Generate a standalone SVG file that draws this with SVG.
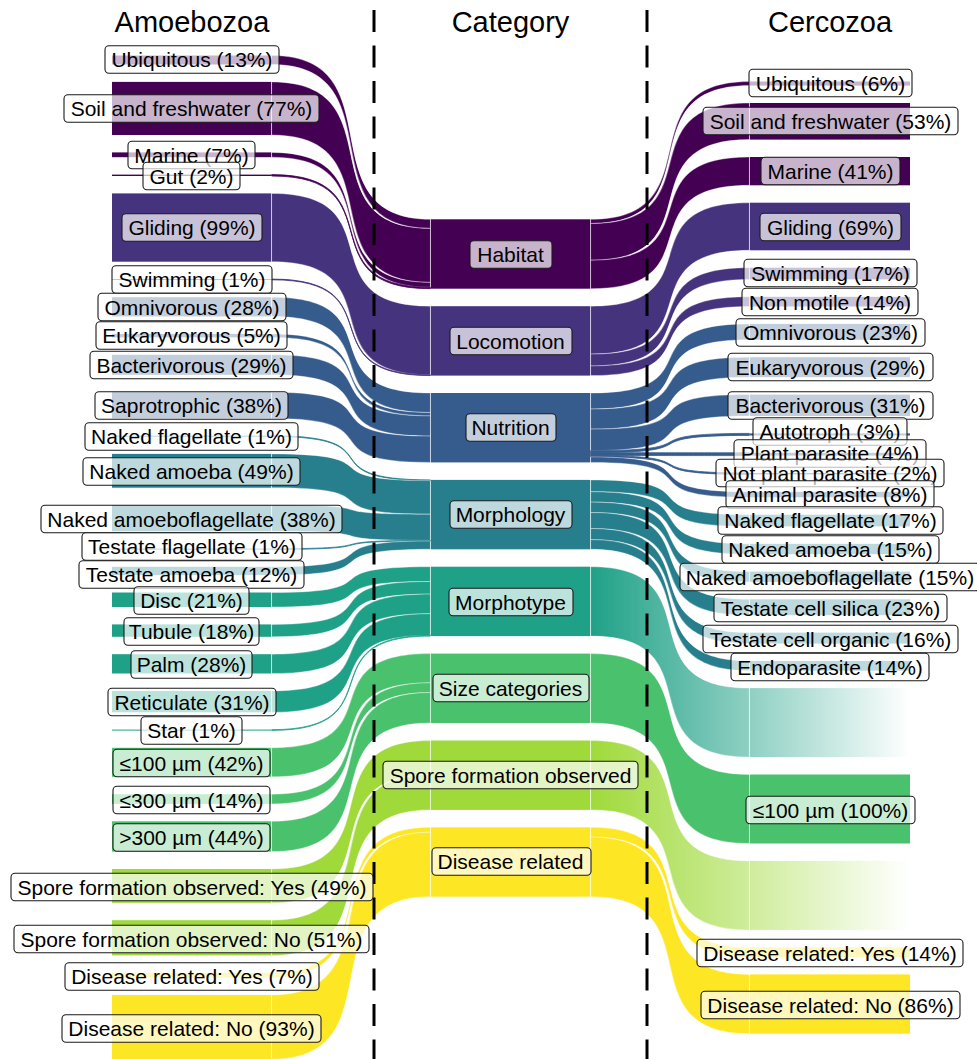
<svg xmlns="http://www.w3.org/2000/svg" width="977" height="1059" viewBox="0 0 977 1059">
<style>
.h{fill:#440154}.l{fill:#46337E}.n{fill:#365C8D}.m{fill:#277F8E}.p{fill:#1FA187}.s{fill:#4AC16D}.o{fill:#9FDA3A}.d{fill:#FDE725}
#links path{stroke:#fff;stroke-width:.5;stroke-opacity:.7}
#links path.t{stroke-opacity:1;stroke-width:.8}
.lab rect{fill:#fff;fill-opacity:.7;stroke:#1a1a1a;stroke-width:1.1}
.lab text{font-family:"Liberation Sans",Arial,sans-serif;font-size:21px;text-anchor:middle;fill:#000}
.ttl{font-family:"Liberation Sans",Arial,sans-serif;font-size:29px;text-anchor:middle;fill:#000}
.dash{stroke:#000;stroke-width:3;stroke-dasharray:22 13.5;fill:none}
</style>
<defs>
<linearGradient id="gp" gradientUnits="userSpaceOnUse" x1="590" y1="0" x2="910" y2="0"><stop offset="0" stop-color="#1FA187" stop-opacity="1"/><stop offset="1" stop-color="#1FA187" stop-opacity="0"/></linearGradient>
<linearGradient id="go" gradientUnits="userSpaceOnUse" x1="590" y1="0" x2="910" y2="0"><stop offset="0" stop-color="#9FDA3A" stop-opacity="1"/><stop offset="1" stop-color="#9FDA3A" stop-opacity="0"/></linearGradient>
</defs>
<rect width="977" height="1059" fill="#fff"/>
<g id="titles">
<text class="ttl" x="192" y="32">Amoebozoa</text>
<text class="ttl" x="510.5" y="32">Category</text>
<text class="ttl" x="830" y="32">Cercozoa</text>
</g>
<g id="links">
<path class="h" d="M271.6,55.5C398.6,55.5 303.4,219.3 430.4,219.3L430.4,228.4C303.4,228.4 398.6,64.5 271.6,64.5Z"/>
<path class="h" d="M271.6,81.9C398.6,81.9 303.4,228.4 430.4,228.4L430.4,282.4C303.4,282.4 398.6,135 271.6,135Z"/>
<path class="h" d="M271.6,152.4C398.6,152.4 303.4,282.4 430.4,282.4L430.4,287.3C303.4,287.3 398.6,157.2 271.6,157.2Z"/>
<path class="h t" style="stroke:#440154" d="M271.6,174.6C398.6,174.6 303.4,287.3 430.4,287.3L430.4,288.7C303.4,288.7 398.6,176 271.6,176Z"/>
<path class="l" d="M271.6,193.4C398.6,193.4 303.4,306.2 430.4,306.2L430.4,374.9C303.4,374.9 398.6,261.7 271.6,261.7Z"/>
<path class="l t" style="stroke:#46337E" d="M271.6,279.1C398.6,279.1 303.4,374.9 430.4,374.9L430.4,375.6C303.4,375.6 398.6,279.8 271.6,279.8Z"/>
<path class="n" d="M271.6,297.2C398.6,297.2 303.4,393 430.4,393L430.4,412.5C303.4,412.5 398.6,316.5 271.6,316.5Z"/>
<path class="n" d="M271.6,333.9C398.6,333.9 303.4,412.5 430.4,412.5L430.4,415.9C303.4,415.9 398.6,337.4 271.6,337.4Z"/>
<path class="n" d="M271.6,354.8C398.6,354.8 303.4,415.9 430.4,415.9L430.4,436.1C303.4,436.1 398.6,374.8 271.6,374.8Z"/>
<path class="n" d="M271.6,392.2C398.6,392.2 303.4,436.1 430.4,436.1L430.4,462.4C303.4,462.4 398.6,418.4 271.6,418.4Z"/>
<path class="m t" style="stroke:#277F8E" d="M271.6,435.8C398.6,435.8 303.4,479.9 430.4,479.9L430.4,480.6C303.4,480.6 398.6,436.5 271.6,436.5Z"/>
<path class="m" d="M271.6,453.9C398.6,453.9 303.4,480.6 430.4,480.6L430.4,514.2C303.4,514.2 398.6,487.7 271.6,487.7Z"/>
<path class="m" d="M271.6,505.1C398.6,505.1 303.4,514.2 430.4,514.2L430.4,540.4C303.4,540.4 398.6,531.3 271.6,531.3Z"/>
<path class="m t" style="stroke:#277F8E" d="M271.6,548.7C398.6,548.7 303.4,540.4 430.4,540.4L430.4,541C303.4,541 398.6,549.4 271.6,549.4Z"/>
<path class="m" d="M271.6,566.8C398.6,566.8 303.4,541 430.4,541L430.4,549.3C303.4,549.3 398.6,575.1 271.6,575.1Z"/>
<path class="p" d="M271.6,592.5C398.6,592.5 303.4,566.7 430.4,566.7L430.4,581.5C303.4,581.5 398.6,607 271.6,607Z"/>
<path class="p" d="M271.6,624.4C398.6,624.4 303.4,581.5 430.4,581.5L430.4,594.1C303.4,594.1 398.6,636.8 271.6,636.8Z"/>
<path class="p" d="M271.6,654.2C398.6,654.2 303.4,594.1 430.4,594.1L430.4,613.7C303.4,613.7 398.6,673.5 271.6,673.5Z"/>
<path class="p" d="M271.6,690.9C398.6,690.9 303.4,613.7 430.4,613.7L430.4,635.4C303.4,635.4 398.6,712.3 271.6,712.3Z"/>
<path class="p t" style="stroke:#1FA187" d="M271.6,729.7C398.6,729.7 303.4,635.4 430.4,635.4L430.4,636.1C303.4,636.1 398.6,730.4 271.6,730.4Z"/>
<path class="s" d="M271.6,747.8C398.6,747.8 303.4,653.6 430.4,653.6L430.4,682.8C303.4,682.8 398.6,776.8 271.6,776.8Z"/>
<path class="s" d="M271.6,794.2C398.6,794.2 303.4,682.8 430.4,682.8L430.4,692.5C303.4,692.5 398.6,803.9 271.6,803.9Z"/>
<path class="s" d="M271.6,821.3C398.6,821.3 303.4,692.5 430.4,692.5L430.4,723C303.4,723 398.6,851.6 271.6,851.6Z"/>
<path class="o" d="M271.6,869C398.6,869 303.4,740.5 430.4,740.5L430.4,774.5C303.4,774.5 398.6,902.8 271.6,902.8Z"/>
<path class="o" d="M271.6,920.2C398.6,920.2 303.4,774.5 430.4,774.5L430.4,809.9C303.4,809.9 398.6,955.4 271.6,955.4Z"/>
<path class="d" d="M271.6,972.8C398.6,972.8 303.4,827.3 430.4,827.3L430.4,832.2C303.4,832.2 398.6,977.6 271.6,977.6Z"/>
<path class="d" d="M271.6,995C398.6,995 303.4,832.2 430.4,832.2L430.4,896.7C303.4,896.7 398.6,1059.2 271.6,1059.2Z"/>

<path class="h" d="M590.6,219.3C717.6,219.3 622.4,81.5 749.4,81.5L749.4,85.6C622.4,85.6 717.6,223.5 590.6,223.5Z"/>
<path class="h" d="M590.6,223.5C717.6,223.5 622.4,103 749.4,103L749.4,139.6C622.4,139.6 717.6,260.2 590.6,260.2Z"/>
<path class="h" d="M590.6,260.2C717.6,260.2 622.4,157 749.4,157L749.4,185.3C622.4,185.3 717.6,288.7 590.6,288.7Z"/>
<path class="l" d="M590.6,306.2C717.6,306.2 622.4,202.7 749.4,202.7L749.4,250.3C622.4,250.3 717.6,354.1 590.6,354.1Z"/>
<path class="l" d="M590.6,354.1C717.6,354.1 622.4,267.7 749.4,267.7L749.4,279.4C622.4,279.4 717.6,365.9 590.6,365.9Z"/>
<path class="l" d="M590.6,365.9C717.6,365.9 622.4,296.8 749.4,296.8L749.4,306.5C622.4,306.5 717.6,375.6 590.6,375.6Z"/>
<path class="n" d="M590.6,393C717.6,393 622.4,323.9 749.4,323.9L749.4,339.8C622.4,339.8 717.6,409 590.6,409Z"/>
<path class="n" d="M590.6,409C717.6,409 622.4,357.2 749.4,357.2L749.4,377.2C622.4,377.2 717.6,429.1 590.6,429.1Z"/>
<path class="n" d="M590.6,429.1C717.6,429.1 622.4,394.6 749.4,394.6L749.4,416C622.4,416 717.6,450.6 590.6,450.6Z"/>
<path class="n t" style="stroke:#365C8D" d="M590.6,450.6C717.6,450.6 622.4,433.4 749.4,433.4L749.4,435.4C622.4,435.4 717.6,452.7 590.6,452.7Z"/>
<path class="n t" style="stroke:#365C8D" d="M590.6,452.7C717.6,452.7 622.4,452.8 749.4,452.8L749.4,455.6C622.4,455.6 717.6,455.5 590.6,455.5Z"/>
<path class="n t" style="stroke:#365C8D" d="M590.6,455.5C717.6,455.5 622.4,473 749.4,473L749.4,474.4C622.4,474.4 717.6,456.9 590.6,456.9Z"/>
<path class="n" d="M590.6,456.9C717.6,456.9 622.4,491.8 749.4,491.8L749.4,497.3C622.4,497.3 717.6,462.4 590.6,462.4Z"/>
<path class="m" d="M590.6,479.9C717.6,479.9 622.4,514.7 749.4,514.7L749.4,526.4C622.4,526.4 717.6,491.7 590.6,491.7Z"/>
<path class="m" d="M590.6,491.7C717.6,491.7 622.4,543.8 749.4,543.8L749.4,554.2C622.4,554.2 717.6,502.1 590.6,502.1Z"/>
<path class="m" d="M590.6,502.1C717.6,502.1 622.4,571.6 749.4,571.6L749.4,581.9C622.4,581.9 717.6,512.5 590.6,512.5Z"/>
<path class="m" d="M590.6,512.5C717.6,512.5 622.4,599.3 749.4,599.3L749.4,615.2C622.4,615.2 717.6,528.5 590.6,528.5Z"/>
<path class="m" d="M590.6,528.5C717.6,528.5 622.4,632.6 749.4,632.6L749.4,643.6C622.4,643.6 717.6,539.6 590.6,539.6Z"/>
<path class="m" d="M590.6,539.6C717.6,539.6 622.4,661 749.4,661L749.4,670.7C622.4,670.7 717.6,549.3 590.6,549.3Z"/>
<path fill="url(#gp)" d="M590.6,566.7C717.6,566.7 622.4,688.1 749.4,688.1L749.4,757.1C622.4,757.1 717.6,636.1 590.6,636.1Z"/>
<rect fill="url(#gp)" x="750" y="688.1" width="160" height="69"/>
<path class="s" d="M590.6,653.6C717.6,653.6 622.4,774.5 749.4,774.5L749.4,843.5C622.4,843.5 717.6,723 590.6,723Z"/>
<path fill="url(#go)" d="M590.6,740.5C717.6,740.5 622.4,860.9 749.4,860.9L749.4,929.9C622.4,929.9 717.6,809.9 590.6,809.9Z"/>
<rect fill="url(#go)" x="750" y="860.9" width="160" height="69"/>
<path class="d" d="M590.6,827.3C717.6,827.3 622.4,947.3 749.4,947.3L749.4,957C622.4,957 717.6,837 590.6,837Z"/>
<path class="d" d="M590.6,837C717.6,837 622.4,974.4 749.4,974.4L749.4,1033.7C622.4,1033.7 717.6,896.7 590.6,896.7Z"/>
</g>
<g id="dashes">
<line class="dash" x1="374" y1="10" x2="374" y2="1059"/>
<line class="dash" x1="647" y1="10" x2="647" y2="1059"/>
</g>
<g id="amoebozoa">
<g id="a-ubiquitous"><rect class="h" x="112" y="55.5" width="159" height="9"/><g class="lab"><rect x="105" y="45.75" width="174" height="27.5" rx="4"/><text x="192" y="67">Ubiquitous (13%)</text></g></g>
<g id="a-soil"><rect class="h" x="112" y="81.9" width="159" height="53.1"/><g class="lab"><rect x="64" y="94.75" width="255" height="27.5" rx="4"/><text x="191.5" y="116">Soil and freshwater (77%)</text></g></g>
<g id="a-marine"><rect class="h" x="112" y="152.4" width="159" height="4.8"/><g class="lab"><rect x="128" y="141.25" width="127" height="27.5" rx="4"/><text x="191.5" y="162.5">Marine (7%)</text></g></g>
<g id="a-gut"><rect class="h" x="112" y="174.6" width="159" height="1.4"/><g class="lab"><rect x="143" y="162.25" width="97" height="27.5" rx="4"/><text x="191.5" y="183.5">Gut (2%)</text></g></g>
<g id="a-gliding"><rect class="l" x="112" y="193.4" width="159" height="68.3"/><g class="lab"><rect x="122" y="213.75" width="140" height="27.5" rx="4"/><text x="192" y="235">Gliding (99%)</text></g></g>
<g id="a-swimming"><rect class="l" x="112" y="279" width="159" height="1"/><g class="lab"><rect x="112" y="265.75" width="160" height="27.5" rx="4"/><text x="192" y="287">Swimming (1%)</text></g></g>
<g id="a-omnivorous"><rect class="n" x="112" y="297.2" width="159" height="19.3"/><g class="lab"><rect x="98" y="293.25" width="188" height="27.5" rx="4"/><text x="192" y="314.5">Omnivorous (28%)</text></g></g>
<g id="a-eukaryvorous"><rect class="n" x="112" y="333.9" width="159" height="3.5"/><g class="lab"><rect x="96" y="321.75" width="191" height="27.5" rx="4"/><text x="191.5" y="343">Eukaryvorous (5%)</text></g></g>
<g id="a-bacterivorous"><rect class="n" x="112" y="354.8" width="159" height="20"/><g class="lab"><rect x="90" y="351.25" width="203" height="27.5" rx="4"/><text x="191.5" y="372.5">Bacterivorous (29%)</text></g></g>
<g id="a-saprotrophic"><rect class="n" x="112" y="392.2" width="159" height="26.2"/><g class="lab"><rect x="95" y="391.75" width="193" height="27.5" rx="4"/><text x="191.5" y="413">Saprotrophic (38%)</text></g></g>
<g id="a-naked-flagellate"><rect class="m" x="112" y="435.7" width="159" height="1"/><g class="lab"><rect x="85" y="422.75" width="213" height="27.5" rx="4"/><text x="191.5" y="444">Naked flagellate (1%)</text></g></g>
<g id="a-naked-amoeba"><rect class="m" x="112" y="453.9" width="159" height="33.8"/><g class="lab"><rect x="83" y="457.75" width="217" height="27.5" rx="4"/><text x="191.5" y="479">Naked amoeba (49%)</text></g></g>
<g id="a-naked-amoeboflagellate"><rect class="m" x="112" y="505.1" width="159" height="26.2"/><g class="lab"><rect x="41" y="505.25" width="301" height="27.5" rx="4"/><text x="191.5" y="526.5">Naked amoeboflagellate (38%)</text></g></g>
<g id="a-testate-flagellate"><rect class="m" x="112" y="548.6" width="159" height="1"/><g class="lab"><rect x="82" y="532.75" width="220" height="27.5" rx="4"/><text x="192" y="554">Testate flagellate (1%)</text></g></g>
<g id="a-testate-amoeba"><rect class="m" x="112" y="566.8" width="159" height="8.3"/><g class="lab"><rect x="79" y="560.75" width="225" height="27.5" rx="4"/><text x="191.5" y="582">Testate amoeba (12%)</text></g></g>
<g id="a-disc"><rect class="p" x="112" y="592.5" width="159" height="14.5"/><g class="lab"><rect x="134" y="586.75" width="115" height="27.5" rx="4"/><text x="191.5" y="608">Disc (21%)</text></g></g>
<g id="a-tubule"><rect class="p" x="112" y="624.4" width="159" height="12.4"/><g class="lab"><rect x="124" y="617.75" width="135" height="27.5" rx="4"/><text x="191.5" y="639">Tubule (18%)</text></g></g>
<g id="a-palm"><rect class="p" x="112" y="654.2" width="159" height="19.3"/><g class="lab"><rect x="131" y="650.75" width="121" height="27.5" rx="4"/><text x="191.5" y="672">Palm (28%)</text></g></g>
<g id="a-reticulate"><rect class="p" x="112" y="690.9" width="159" height="21.4"/><g class="lab"><rect x="108" y="688.25" width="168" height="27.5" rx="4"/><text x="192" y="709.5">Reticulate (31%)</text></g></g>
<g id="a-star"><rect class="p" x="112" y="729.6" width="159" height="1"/><g class="lab"><rect x="141" y="716.75" width="101" height="27.5" rx="4"/><text x="191.5" y="738">Star (1%)</text></g></g>
<g id="a-size100"><rect class="s" x="112" y="747.8" width="159" height="29"/><g class="lab"><rect x="113" y="749.25" width="157" height="27.5" rx="4"/><text x="191.5" y="770.5">≤100 µm (42%)</text></g></g>
<g id="a-size300"><rect class="s" x="112" y="794.2" width="159" height="9.7"/><g class="lab"><rect x="113" y="786.25" width="157" height="27.5" rx="4"/><text x="191.5" y="807.5">≤300 µm (14%)</text></g></g>
<g id="a-size300plus"><rect class="s" x="112" y="821.3" width="159" height="30.3"/><g class="lab"><rect x="113" y="823.75" width="157" height="27.5" rx="4"/><text x="191.5" y="845">&gt;300 µm (44%)</text></g></g>
<g id="a-spore-yes"><rect class="o" x="112" y="869" width="159" height="33.8"/><g class="lab"><rect x="11" y="873.25" width="362" height="27.5" rx="4"/><text x="192" y="894.5">Spore formation observed: Yes (49%)</text></g></g>
<g id="a-spore-no"><rect class="o" x="112" y="920.2" width="159" height="35.2"/><g class="lab"><rect x="14" y="925.25" width="355" height="27.5" rx="4"/><text x="191.5" y="946.5">Spore formation observed: No (51%)</text></g></g>
<g id="a-disease-yes"><rect class="d" x="112" y="972.8" width="159" height="4.8"/><g class="lab"><rect x="65" y="962.75" width="254" height="27.5" rx="4"/><text x="192" y="984">Disease related: Yes (7%)</text></g></g>
<g id="a-disease-no"><rect class="d" x="112" y="995" width="159" height="64.2"/><g class="lab"><rect x="62" y="1014.75" width="259" height="27.5" rx="4"/><text x="191.5" y="1036">Disease related: No (93%)</text></g></g>
</g>
<g id="category">
<g id="c-habitat"><rect class="h" x="431" y="219.3" width="159" height="69.4"/><g class="lab"><rect x="470" y="240.75" width="82" height="27.5" rx="4"/><text x="510.5" y="262">Habitat</text></g></g>
<g id="c-locomotion"><rect class="l" x="431" y="306.2" width="159" height="69.4"/><g class="lab"><rect x="450" y="327.25" width="122" height="27.5" rx="4"/><text x="510.5" y="348.5">Locomotion</text></g></g>
<g id="c-nutrition"><rect class="n" x="431" y="393" width="159" height="69.4"/><g class="lab"><rect x="466" y="413.75" width="90" height="27.5" rx="4"/><text x="510.5" y="435">Nutrition</text></g></g>
<g id="c-morphology"><rect class="m" x="431" y="479.9" width="159" height="69.4"/><g class="lab"><rect x="450" y="500.75" width="122" height="27.5" rx="4"/><text x="510.5" y="522">Morphology</text></g></g>
<g id="c-morphotype"><rect class="p" x="431" y="566.7" width="159" height="69.4"/><g class="lab"><rect x="449" y="588.25" width="124" height="27.5" rx="4"/><text x="510.5" y="609.5">Morphotype</text></g></g>
<g id="c-size"><rect class="s" x="431" y="653.6" width="159" height="69.4"/><g class="lab"><rect x="433" y="674.25" width="156" height="27.5" rx="4"/><text x="510.5" y="695.5">Size categories</text></g></g>
<g id="c-spore"><rect class="o" x="431" y="740.5" width="159" height="69.4"/><g class="lab"><rect x="383" y="761.25" width="255" height="27.5" rx="4"/><text x="510.5" y="782.5">Spore formation observed</text></g></g>
<g id="c-disease"><rect class="d" x="431" y="827.3" width="159" height="69.4"/><g class="lab"><rect x="432" y="847.75" width="159" height="27.5" rx="4"/><text x="510.5" y="869">Disease related</text></g></g>
</g>
<g id="cercozoa">
<g id="r-ubiquitous"><rect class="h" x="750" y="81.5" width="160" height="4.1"/><g class="lab"><rect x="749" y="69.25" width="163" height="27.5" rx="4"/><text x="830.5" y="90.5">Ubiquitous (6%)</text></g></g>
<g id="r-soil"><rect class="h" x="750" y="103" width="160" height="36.6"/><g class="lab"><rect x="703" y="107.25" width="255" height="27.5" rx="4"/><text x="830.5" y="128.5">Soil and freshwater (53%)</text></g></g>
<g id="r-marine"><rect class="h" x="750" y="157" width="160" height="28.3"/><g class="lab"><rect x="761" y="157.25" width="139" height="27.5" rx="4"/><text x="830.5" y="178.5">Marine (41%)</text></g></g>
<g id="r-gliding"><rect class="l" x="750" y="202.7" width="160" height="47.6"/><g class="lab"><rect x="760" y="213.25" width="141" height="27.5" rx="4"/><text x="830.5" y="234.5">Gliding (69%)</text></g></g>
<g id="r-swimming"><rect class="l" x="750" y="267.7" width="160" height="11.7"/><g class="lab"><rect x="744" y="259.25" width="173" height="27.5" rx="4"/><text x="830.5" y="280.5">Swimming (17%)</text></g></g>
<g id="r-nonmotile"><rect class="l" x="750" y="296.8" width="160" height="9.7"/><g class="lab"><rect x="742" y="288.25" width="176" height="27.5" rx="4"/><text x="830" y="309.5">Non motile (14%)</text></g></g>
<g id="r-omnivorous"><rect class="n" x="750" y="323.9" width="160" height="15.9"/><g class="lab"><rect x="736" y="318.75" width="189" height="27.5" rx="4"/><text x="830.5" y="340">Omnivorous (23%)</text></g></g>
<g id="r-eukaryvorous"><rect class="n" x="750" y="357.2" width="160" height="20"/><g class="lab"><rect x="728" y="353.25" width="205" height="27.5" rx="4"/><text x="830.5" y="374.5">Eukaryvorous (29%)</text></g></g>
<g id="r-bacterivorous"><rect class="n" x="750" y="394.6" width="160" height="21.4"/><g class="lab"><rect x="728" y="391.75" width="205" height="27.5" rx="4"/><text x="830.5" y="413">Bacterivorous (31%)</text></g></g>
<g id="r-autotroph"><rect class="n" x="750" y="433.4" width="160" height="2.1"/><g class="lab"><rect x="753" y="417.75" width="154" height="27.5" rx="4"/><text x="830" y="439">Autotroph (3%)</text></g></g>
<g id="r-plant-parasite"><rect class="n" x="750" y="452.8" width="160" height="2.8"/><g class="lab"><rect x="734" y="439.75" width="192" height="27.5" rx="4"/><text x="830" y="461">Plant parasite (4%)</text></g></g>
<g id="r-not-plant-parasite"><rect class="n" x="750" y="473" width="160" height="1.4"/><g class="lab"><rect x="716" y="459.25" width="228" height="27.5" rx="4"/><text x="830" y="480.5">Not plant parasite (2%)</text></g></g>
<g id="r-animal-parasite"><rect class="n" x="750" y="491.8" width="160" height="5.5"/><g class="lab"><rect x="726" y="480.75" width="208" height="27.5" rx="4"/><text x="830" y="502">Animal parasite (8%)</text></g></g>
<g id="r-naked-flagellate"><rect class="m" x="750" y="514.7" width="160" height="11.7"/><g class="lab"><rect x="718" y="506.75" width="225" height="27.5" rx="4"/><text x="830.5" y="528">Naked flagellate (17%)</text></g></g>
<g id="r-naked-amoeba"><rect class="m" x="750" y="543.8" width="160" height="10.4"/><g class="lab"><rect x="722" y="535.75" width="217" height="27.5" rx="4"/><text x="830.5" y="557">Naked amoeba (15%)</text></g></g>
<g id="r-naked-amoeboflagellate"><rect class="m" x="750" y="571.6" width="160" height="10.3"/><g class="lab"><rect x="680" y="563.25" width="300" height="27.5" rx="4"/><text x="830" y="584.5">Naked amoeboflagellate (15%)</text></g></g>
<g id="r-testate-silica"><rect class="m" x="750" y="599.3" width="160" height="15.9"/><g class="lab"><rect x="714" y="594.25" width="233" height="27.5" rx="4"/><text x="830.5" y="615.5">Testate cell silica (23%)</text></g></g>
<g id="r-testate-organic"><rect class="m" x="750" y="632.6" width="160" height="11"/><g class="lab"><rect x="703" y="625.25" width="255" height="27.5" rx="4"/><text x="830.5" y="646.5">Testate cell organic (16%)</text></g></g>
<g id="r-endoparasite"><rect class="m" x="750" y="661" width="160" height="9.7"/><g class="lab"><rect x="731" y="653.25" width="198" height="27.5" rx="4"/><text x="830" y="674.5">Endoparasite (14%)</text></g></g>
<g id="r-size100"><rect class="s" x="750" y="774.5" width="160" height="69"/><g class="lab"><rect x="746" y="796.25" width="169" height="27.5" rx="4"/><text x="830.5" y="817.5">≤100 µm (100%)</text></g></g>
<g id="r-disease-yes"><rect class="d" x="750" y="947.3" width="160" height="9.7"/><g class="lab"><rect x="697" y="939.25" width="266" height="27.5" rx="4"/><text x="830" y="960.5">Disease related: Yes (14%)</text></g></g>
<g id="r-disease-no"><rect class="d" x="750" y="974.4" width="160" height="59.3"/><g class="lab"><rect x="701" y="991.25" width="259" height="27.5" rx="4"/><text x="830.5" y="1012.5">Disease related: No (86%)</text></g></g>
</g>
</svg>
